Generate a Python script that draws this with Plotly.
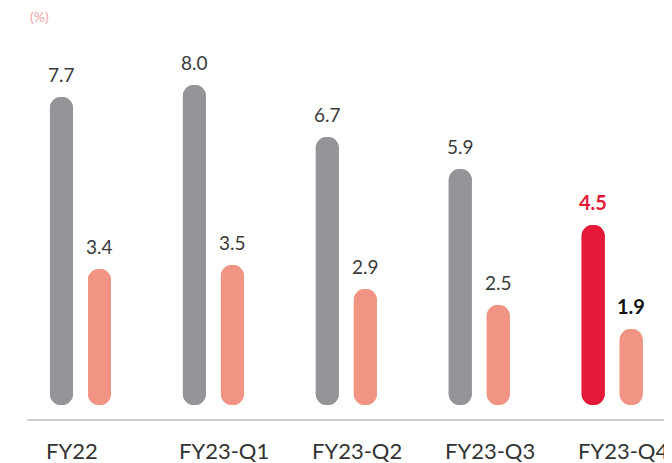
import plotly.graph_objects as go

categories = ["FY22", "FY23-Q1", "FY23-Q2", "FY23-Q3", "FY23-Q4"]
gross_values = [7.7, 8.0, 6.7, 5.9, 4.5]
net_values = [3.4, 3.5, 2.9, 2.5, 1.9]

GRAY = "#939598"
SALMON = "#F19483"
RED = "#E31937"
FONT = "Lato"

# page body has an 8px margin, so the figure is 8px smaller than the window
bar_w = 0.173
gray_off = -0.2295
salmon_off = 0.0565
gray_colors = [GRAY] * (len(categories) - 1) + [RED]

fig = go.Figure()


def add_pill(values, colors, offset):
    # two overlaid bars, each rounded at its far end, make a pill
    common = dict(
        x=categories,
        width=[bar_w] * len(categories),
        offset=[offset] * len(categories),
        marker=dict(color=colors, cornerradius="50%", line=dict(width=0)),
        hoverinfo="skip",
        showlegend=False,
    )
    fig.add_trace(go.Bar(y=values, base=[0] * len(values), **common))
    fig.add_trace(go.Bar(y=[-v for v in values], base=values, **common))


add_pill(gross_values, gray_colors, gray_off)
add_pill(net_values, SALMON, salmon_off)

annotations = []
last = len(categories) - 1
plain = dict(size=19, color="#3a3a3a", family=FONT)
for i, cat in enumerate(categories):
    g_style = dict(size=20, color=RED, family=FONT) if i == last else plain
    n_style = dict(size=20, color="#111111", family=FONT) if i == last else plain
    g_txt = f"{gross_values[i]:.1f}"
    n_txt = f"{net_values[i]:.1f}"
    if i == last:
        g_txt, n_txt = f"<b>{g_txt}</b>", f"<b>{n_txt}</b>"
    annotations.append(dict(
        x=cat, y=gross_values[i], text=g_txt,
        xref="x", yref="y", showarrow=False, xanchor="center", yanchor="bottom",
        xshift=-19, yshift=9, font=g_style,
    ))
    annotations.append(dict(
        x=cat, y=net_values[i], text=n_txt,
        xref="x", yref="y", showarrow=False, xanchor="center", yanchor="bottom",
        xshift=19, yshift=9, font=n_style,
    ))
    annotations.append(dict(
        x=cat, y=0, text=cat, xref="x", yref="paper", showarrow=False,
        xanchor="left", yanchor="top", xshift=-36, yshift=-15,
        font=dict(size=22, color="#333333", family=FONT),
    ))

annotations.append(dict(
    x=0, y=1, xref="paper", yref="paper", text="(%)", showarrow=False,
    xanchor="center", yanchor="middle", xshift=25, yshift=-8,
    font=dict(size=14, color="#F4A3A3", family=FONT),
))

fig.update_layout(
    width=664,
    height=455,
    barmode="overlay",
    paper_bgcolor="white",
    plot_bgcolor="white",
    margin=dict(l=6, r=0, t=0, b=43),
    xaxis=dict(
        type="category",
        range=[-0.5, 4.45],
        showgrid=False,
        zeroline=False,
        showticklabels=False,
        ticks="",
        showline=False,
    ),
    yaxis=dict(
        range=[-0.375, 9.925],
        showgrid=False,
        zeroline=False,
        showticklabels=False,
        ticks="",
    ),
    shapes=[dict(
        type="line", xref="paper", yref="paper", x0=0.02, x1=1, y0=0, y1=0,
        line=dict(color="#BDBDBD", width=1.5),
    )],
    annotations=annotations,
)

fig.write_html("out.html")
